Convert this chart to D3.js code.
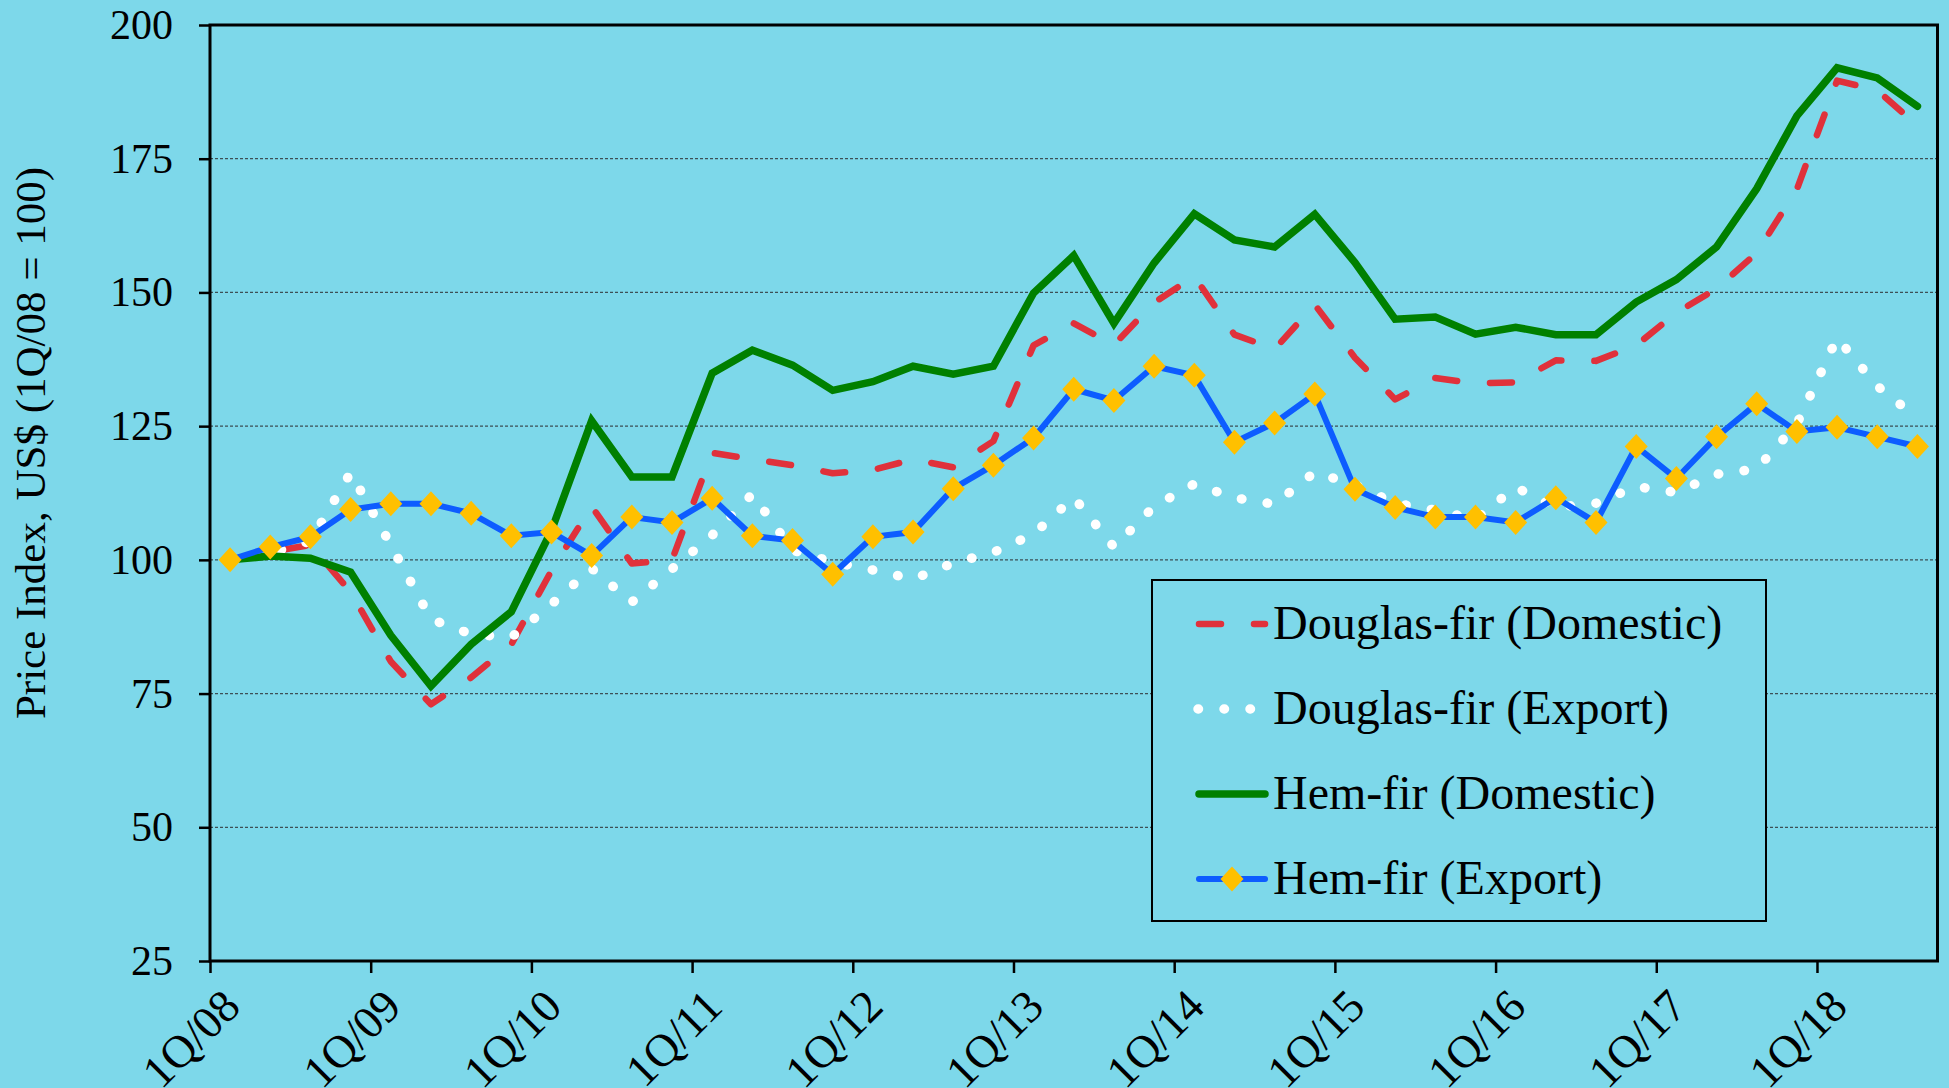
<!DOCTYPE html>
<meta charset="utf-8">
<title>Log Price Index</title>
<style>
body { margin: 0; background: #7dd8ea; }
text { font-family: "Liberation Serif", "Times New Roman", serif; fill: #000; }
</style>
<body>
<script src="https://cdn.jsdelivr.net/npm/d3@7"></script>
<script>
// quarters 1Q/08 .. 3Q/18
var quarters = ['1Q/08','2Q/08','3Q/08','4Q/08','1Q/09','2Q/09','3Q/09','4Q/09',
  '1Q/10','2Q/10','3Q/10','4Q/10','1Q/11','2Q/11','3Q/11','4Q/11',
  '1Q/12','2Q/12','3Q/12','4Q/12','1Q/13','2Q/13','3Q/13','4Q/13',
  '1Q/14','2Q/14','3Q/14','4Q/14','1Q/15','2Q/15','3Q/15','4Q/15',
  '1Q/16','2Q/16','3Q/16','4Q/16','1Q/17','2Q/17','3Q/17','4Q/17',
  '1Q/18','2Q/18','3Q/18'];

var dfDomestic = [100, 101.5, 102.8, 94, 81, 73, 78, 84.2, 98, 110, 99.3, 100,
  120, 118.8, 117.7, 116.2, 116.8, 118.8, 117.3, 122.2, 140.1, 144.2, 140.2, 148.1,
  153, 142.1, 139.4, 147.7, 137.8, 130, 134, 133, 133.2, 137.3, 137.2, 140.1,
  146.2, 150.7, 157.4, 169.3, 189.6, 187.8, 181.2];
var dfExport = [100, 101.3, 103.5, 116.3, 102.8, 88.9, 86.1, 85.5, 91.7, 98.4, 92.1, 98.3,
  104.6, 112.3, 101.8, 99.6, 98.1, 96.4, 99.4, 101.4, 104.8, 111.7, 102.4, 110,
  114.2, 111.6, 110.4, 116.4, 114, 110.6, 109.3, 107.6, 113.6, 109.8, 110.6, 113.7,
  112.6, 116, 117, 125.4, 141.5, 132.5, 126.5];
var hfDomestic = [100, 100.7, 100.3, 97.7, 85.9, 76.4, 84.2, 90.3, 105.5, 126, 115.5, 115.5,
  134.9, 139.2, 136.4, 131.7, 133.3, 136.2, 134.7, 136.2, 149.9, 156.9, 144.2, 155.5,
  164.7, 159.8, 158.5, 164.6, 155.6, 145, 145.4, 142.2, 143.5, 142.1, 142.1, 148.2,
  152.4, 158.5, 169.4, 183, 192, 190.1, 184.8];
var hfExport = [100, 102.4, 104.3, 109.4, 110.5, 110.5, 108.7, 104.5, 105.2, 100.8, 108, 107,
  111.5, 104.5, 103.6, 97.3, 104.3, 105.2, 113.3, 117.7, 122.8, 131.9, 129.8, 136.2,
  134.5, 122, 125.6, 131, 113.2, 109.8, 108, 108, 107, 111.6, 107, 121.2,
  115.2, 123, 129.2, 124, 124.8, 123, 121.2];

var yTicks = [25, 50, 75, 100, 125, 150, 175, 200];
var yTitle = 'Price Index, US$ (1Q/08 = 100)';
var seriesNames = ['Douglas-fir (Domestic)', 'Douglas-fir (Export)', 'Hem-fir (Domestic)', 'Hem-fir (Export)'];

var W = 1949, H = 1088;
var plotL = 210, plotR = 1937.5, plotT = 25, plotB = 961;

var svg = d3.select('body').append('svg')
  .attr('width', W)
  .attr('height', H);

svg.append('rect').attr('width', W).attr('height', H).style('fill', '#7dd8ea');

var x = d3.scaleLinear().domain([0, quarters.length]).range([plotL, plotR]);
var y = d3.scaleLinear().domain([25, 200]).range([plotB, plotT]);

// gridlines
svg.append('g').selectAll('line')
  .data(yTicks.filter(function(d){ return d > 25 && d < 200; }))
  .enter().append('line')
    .attr('x1', plotL).attr('x2', plotR)
    .attr('y1', function(d){ return y(d); })
    .attr('y2', function(d){ return y(d); })
    .style('stroke', '#3d4f55')
    .style('stroke-width', 1.2)
    .style('stroke-dasharray', '3,2');

// legend box (under the lines)
var lg = svg.append('g');
lg.append('rect')
  .attr('x', 1152).attr('y', 580).attr('width', 614).attr('height', 341)
  .style('fill', '#7dd8ea').style('stroke', '#000').style('stroke-width', 2);

// y axis
var gy = svg.append('g')
  .attr('transform', 'translate(' + plotL + ',0)')
  .call(d3.axisLeft(y).tickValues(yTicks).tickSize(11).tickSizeOuter(0).tickPadding(26));
gy.select('.domain').remove();
gy.selectAll('.tick line').style('stroke', '#000').style('stroke-width', 2.5);
gy.selectAll('.tick text')
  .style('font-family', '"Liberation Serif", serif')
  .style('font-size', '42px');

// x axis
var yearIdx = d3.range(0, quarters.length, 4);
var gx = svg.append('g')
  .attr('transform', 'translate(0,' + plotB + ')')
  .call(d3.axisBottom(x).tickValues(yearIdx).tickFormat(function(i){ return quarters[i]; })
    .tickSize(12).tickSizeOuter(0));
gx.select('.domain').remove();
gx.selectAll('.tick line').style('stroke', '#000').style('stroke-width', 2.5);
gx.selectAll('.tick text')
  .attr('x', 0).attr('y', 0).attr('dy', 0)
  .attr('transform', 'translate(32,48) rotate(-45)')
  .style('text-anchor', 'end')
  .style('font-family', '"Liberation Serif", serif')
  .style('font-size', '46px');

// frame
svg.append('rect')
  .attr('x', plotL).attr('y', plotT)
  .attr('width', plotR - plotL).attr('height', plotB - plotT)
  .style('fill', 'none').style('stroke', '#000').style('stroke-width', 3);

// y title
svg.append('text')
  .attr('transform', 'translate(45,443) rotate(-90)')
  .style('text-anchor', 'middle')
  .style('font-size', '43px')
  .text(yTitle);

// lines
var line = d3.line()
  .x(function(d, i){ return x(i + 0.5); })
  .y(function(d){ return y(d); });

var styles = [
  {data: dfDomestic, color: '#e0313b', width: 6.5, dash: '22,33'},
  {data: dfExport, color: '#ffffff', width: 9.5, dash: '0.5,25.5'},
  {data: hfDomestic, color: '#008000', width: 7.5, dash: null},
  {data: hfExport, color: '#0d5cff', width: 6, dash: null}
];

styles.forEach(function(s){
  svg.append('path')
    .datum(s.data)
    .attr('d', line)
    .style('fill', 'none')
    .style('stroke', s.color)
    .style('stroke-width', s.width)
    .style('stroke-linecap', 'round')
    .style('stroke-linejoin', s.dash ? 'round' : 'miter')
    .style('stroke-dasharray', s.dash);
});

var diamond = 'M0,-12.5L11.5,0L0,12.5L-11.5,0Z';
svg.append('g').selectAll('path')
  .data(hfExport)
  .enter().append('path')
    .attr('d', diamond)
    .attr('transform', function(d, i){ return 'translate(' + x(i + 0.5) + ',' + y(d) + ')'; })
    .style('fill', '#ffc000');

// legend entries
var rowY = [624, 709, 794, 879];
styles.forEach(function(s, i){
  var x1 = 1199, x2 = 1265;
  if (i == 1) { x1 = 1198; x2 = 1264; }
  lg.append('line')
    .attr('x1', x1).attr('x2', x2)
    .attr('y1', rowY[i]).attr('y2', rowY[i])
    .style('stroke', s.color)
    .style('stroke-width', s.width)
    .style('stroke-linecap', 'round')
    .style('stroke-dasharray', s.dash);
  lg.append('text')
    .attr('x', 1273)
    .attr('y', rowY[i] + 15)
    .style('font-size', '48px')
    .text(seriesNames[i]);
});
lg.append('path')
  .attr('d', diamond)
  .attr('transform', 'translate(1232,' + rowY[3] + ')')
  .style('fill', '#ffc000');
</script>
